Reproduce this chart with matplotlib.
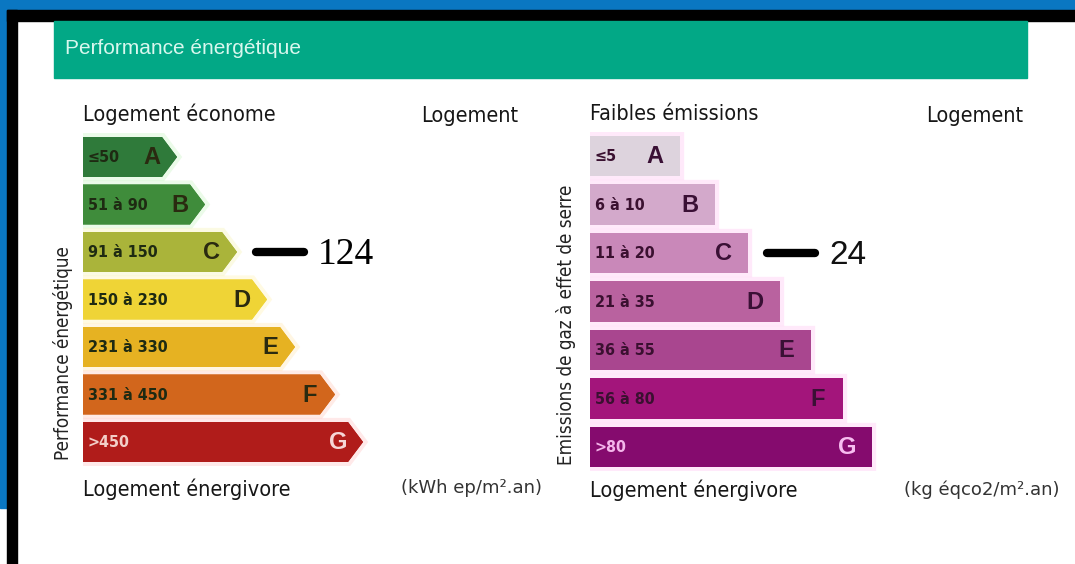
import matplotlib
matplotlib.use('Agg')
import matplotlib.pyplot as plt
from matplotlib.patches import Polygon, Rectangle
import matplotlib.patheffects as pe

W, H = 1075, 564

# --- data ---
classes = ['A', 'B', 'C', 'D', 'E', 'F', 'G']

energy_ranges = ['≤50', '51 à 90', '91 à 150', '150 à 230', '231 à 330', '331 à 450', '>450']
energy_len = [94, 122, 154, 184, 212, 252, 280]
energy_colors = ['#2f7a3a', '#3f8c3b', '#aab43a', '#efd436', '#e6b222', '#d2661c', '#b01c1a']
energy_glow = ['#c8f4c0', '#c8f4c0', '#f6f2b0', '#fff2b0', '#ffe6b0', '#ffc8b8', '#ffc0c0']
energy_class = 'C'
energy_value = 124

ges_ranges = ['≤5', '6 à 10', '11 à 20', '21 à 35', '36 à 55', '56 à 80', '>80']
ges_len = [90, 125, 158, 190, 221, 253, 282]
ges_colors = ['#ddd3dd', '#d3a9cb', '#c988b9', '#b9629f', '#a9468f', '#a3157b', '#850b6e']
ges_class = 'C'
ges_value = 24

NARROW = dict(family=['DejaVu Sans', 'Liberation Sans'], stretch='condensed')
SANS = ['Liberation Sans', 'DejaVu Sans']

fig = plt.figure(figsize=(W / 100, H / 100), dpi=100)

# frame and header, in pixel coordinates
bg = fig.add_axes([0, 0, 1, 1])
bg.set_xlim(0, W)
bg.set_ylim(H, 0)
bg.axis('off')
bg.add_patch(Rectangle((0, 0), W, 11, color='#0a77c2'))
bg.add_patch(Rectangle((0, 0), 7, 508, color='#0a77c2'))
bg.add_patch(Rectangle((7, 10), 10, H, color='black'))
bg.add_patch(Rectangle((7, 10), W, 11, color='black'))
bg.add_patch(Rectangle((54, 21), 973, 57, color='#02a886'))
bg.text(65, 49, 'Performance énergétique', color='#d9f7ee', fontsize=15,
        va='center', family=SANS)


def draw_label(left, top, pitch, width, ranges, lengths, colors, glow, arrow,
               current, value, value_font, txt_dark, txt_last, letter_dark, letter_last):
    ax = fig.add_axes([left / W, 1 - (top + 7 * pitch) / H, width / W, 7 * pitch / H])
    ax.set_xlim(0, width)
    ax.set_ylim(6.5, -0.5)
    ax.axis('off')
    h = 0.42
    tip = 15 if arrow else 0
    for i, (rng, L, c, g) in enumerate(zip(ranges, lengths, colors, glow)):
        pts = [(0, i - h), (L - tip, i - h), (L, i), (L - tip, i + h), (0, i + h)]
        poly = Polygon(pts, closed=True, facecolor=c, edgecolor='none')
        poly.set_path_effects([pe.withStroke(linewidth=6, foreground=g, alpha=0.35),
                               pe.Normal()])
        ax.add_patch(poly)
        last = i == len(ranges) - 1
        ax.text(5, i + 0.02, rng, fontsize=11.5, va='center', ha='left', weight='bold',
                color=txt_last if last else txt_dark, **NARROW)
        ax.text(L - 25, i + 0.02, classes[i], fontsize=17, va='center', ha='center',
                family=SANS, weight='bold', color=letter_last if last else letter_dark)
    row = classes.index(current)
    x0 = lengths[row] + 19
    ax.plot([x0, x0 + 48], [row, row], color='black', lw=6, solid_capstyle='round',
            clip_on=False)
    ax.text(x0 + 62, row + 0.05, str(value), va='center', ha='left',
            clip_on=False, **value_font)
    return ax


draw_label(83, 133.25, 47.5, 460, energy_ranges, energy_len, energy_colors, energy_glow,
           True, energy_class, energy_value,
           dict(family=['Liberation Serif', 'DejaVu Serif'], fontsize=27),
           '#1e2a12', '#f3cfc8', '#2a2a10', '#f6d6d6')
draw_label(590, 131.75, 48.5, 470, ges_ranges, ges_len, ges_colors, ['#ffc0f2'] * 7,
           False, ges_class, ges_value, dict(family=SANS, color='#111111', fontsize=24),
           '#3a1030', '#f4b6ea', '#3a1035', '#f7bdf0')

# titles and units around the two labels
for x, y, s in [(83, 114, 'Logement économe'), (590, 114, 'Faibles émissions'),
                (83, 489, 'Logement énergivore'), (590, 490, 'Logement énergivore')]:
    bg.text(x, y, s, fontsize=15.5, va='center', ha='left', color='#161616', **NARROW)
bg.text(518, 116, 'Logement', fontsize=15.5, va='center', ha='right', color='#161616', **NARROW)
bg.text(1023, 116, 'Logement', fontsize=15.5, va='center', ha='right', color='#161616', **NARROW)
bg.text(542, 488, '(kWh ep/m².an)', fontsize=13, va='center', ha='right', color='#333333',
        family='DejaVu Sans')
bg.text(1060, 490, '(kg éqco2/m².an)', fontsize=13, va='center', ha='right', color='#333333',
        family='DejaVu Sans')
bg.text(63, 353, 'Performance énergétique', fontsize=13.5, rotation=90, va='center',
        ha='center', color='#222222', **NARROW)
bg.text(566, 325, 'Emissions de gaz à effet de serre', fontsize=13.5, rotation=90,
        va='center', ha='center', color='#222222', **NARROW)

fig.savefig('out.png', dpi=100)
